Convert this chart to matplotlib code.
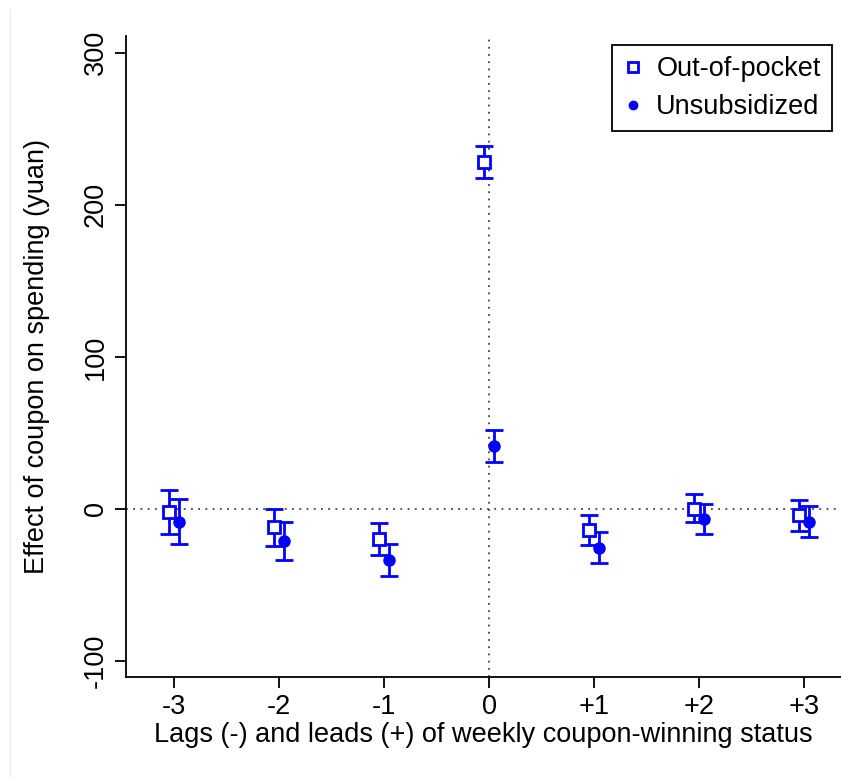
import numpy as np
import matplotlib
matplotlib.use("Agg")
import matplotlib.pyplot as plt
from matplotlib.lines import Line2D

plt.rcParams['font.family'] = ['Liberation Sans', 'DejaVu Sans']

# event-time periods and tick labels
periods = [-3, -2, -1, 0, 1, 2, 3]
tick_labels = ['-3', '-2', '-1', '0', '+1', '+2', '+3']

# out-of-pocket estimates with 95% CI
oop_est = [-2.2, -12.0, -20.0, 228.2, -13.8, 0.2, -4.2]
oop_lo = [-16.6, -24.6, -30.3, 217.7, -24.0, -8.8, -14.5]
oop_hi = [12.5, 0.0, -9.4, 238.8, -3.7, 9.9, 5.9]

# unsubsidized estimates with 95% CI
uns_est = [-8.4, -21.1, -33.6, 41.1, -25.7, -6.8, -8.4]
uns_lo = [-23.0, -33.6, -44.2, 30.8, -35.6, -16.5, -18.5]
uns_hi = [6.4, -8.8, -23.0, 51.6, -15.4, 3.3, 2.2]

blue = '#0000ff'
shift = 0.05
fs = 19.5

fig = plt.figure(figsize=(8.41, 7.78), dpi=100)
ax = fig.add_axes([125.7 / 841, 1 - 677 / 778, 1 - 125.7 / 841, (677 - 36) / 778])

# reference lines
ax.axhline(0, color='#444444', linestyle=(0, (1, 3)), linewidth=1.3, zorder=1)
ax.axvline(0, color='#444444', linestyle=(0, (1, 3)), linewidth=1.3, zorder=1)

x = np.array(periods, dtype=float)
oop_est = np.array(oop_est)
uns_est = np.array(uns_est)
oop_err = [oop_est - np.array(oop_lo), np.array(oop_hi) - oop_est]
uns_err = [uns_est - np.array(uns_lo), np.array(uns_hi) - uns_est]

ax.errorbar(x - shift, oop_est, yerr=oop_err, fmt='none', ecolor=blue,
            elinewidth=2.0, capsize=6.5, capthick=2.0, zorder=2)
ax.errorbar(x + shift, uns_est, yerr=uns_err, fmt='none', ecolor=blue,
            elinewidth=2.0, capsize=6.5, capthick=2.0, zorder=2)
ax.plot(x - shift, oop_est, 's', markersize=9, markerfacecolor='white',
        markeredgecolor=blue, markeredgewidth=2.0, linestyle='none',
        label='Out-of-pocket', zorder=3)
ax.plot(x + shift, uns_est, 'o', markersize=8, color=blue,
        linestyle='none', label='Unsubsidized', zorder=3)

ax.set_xlim(-3.46, 3.35)
ax.set_ylim(-110.5, 311)
ax.set_xticks(periods)
ax.set_xticklabels(tick_labels)
ax.set_yticks([-100, 0, 100, 200, 300])
ax.set_yticklabels(['-100', '0', '100', '200', '300'], rotation=90, va='center')

for side in ['top', 'right']:
    ax.spines[side].set_visible(False)
for side in ['left', 'bottom']:
    ax.spines[side].set_linewidth(1.3)
ax.tick_params(direction='out', length=8, width=1.3, labelsize=fs, pad=4)

ax.set_xlabel('Lags (-) and leads (+) of weekly coupon-winning status',
              fontsize=fs, labelpad=2)
ax.set_ylabel('Effect of coupon on spending (yuan)', fontsize=fs, labelpad=24)

leg = ax.legend(loc='upper right', bbox_to_anchor=(1.0, 1.0), fontsize=fs,
                frameon=True, fancybox=False, edgecolor='black', framealpha=1,
                handletextpad=0.45, borderpad=0.4, labelspacing=0.45,
                handlelength=0.8, markerscale=0.75, borderaxespad=0.35)
leg.get_frame().set_linewidth(1.3)

# faint border line along the left of the canvas
fig.add_artist(Line2D([10 / 841, 10 / 841], [0, 1 - 9 / 778],
                      color='#eeeeee', linewidth=1))

fig.savefig('out.png', dpi=100)
